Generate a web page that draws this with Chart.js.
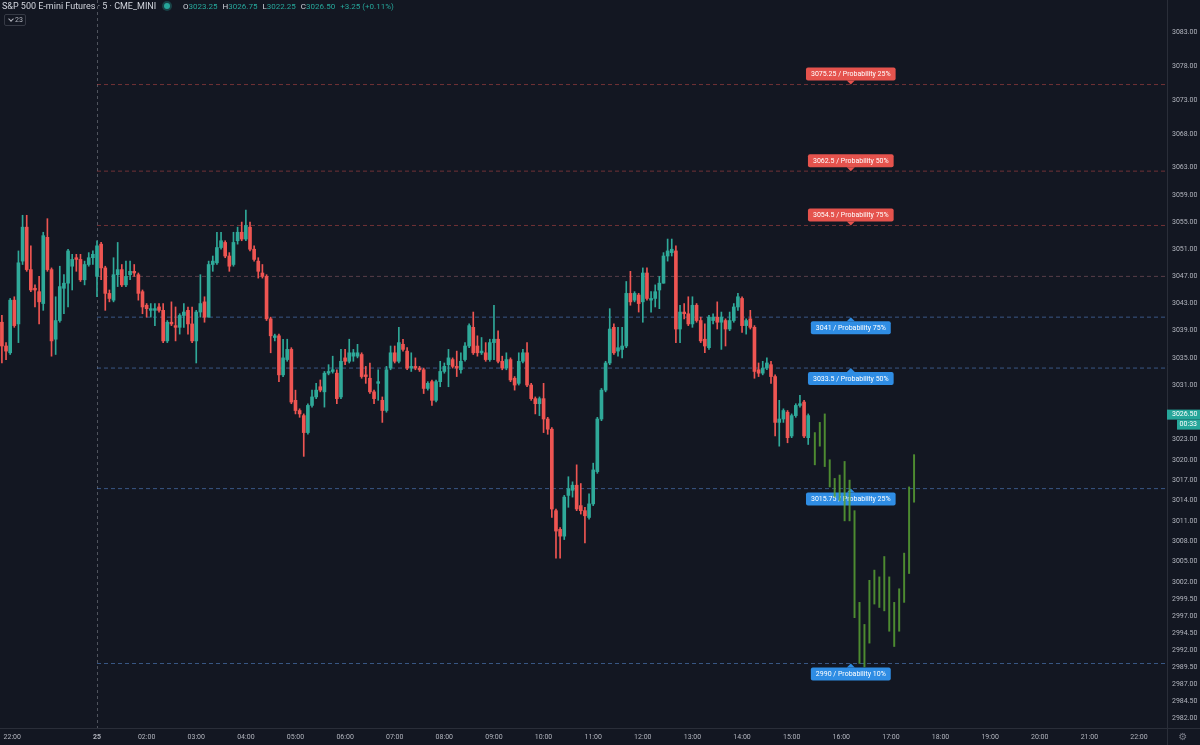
<!DOCTYPE html>
<html>
<head>
<meta charset="utf-8">
<script src="https://cdn.jsdelivr.net/npm/chart.js@4.4.0/dist/chart.umd.min.js"></script>
<style>
  html, body { margin: 0; padding: 0; background: #131722; }
  #wrap { position: relative; width: 1200px; height: 745px; }
  canvas { display: block; }
  .title { position: absolute; left: 2px; top: 1px; font: 9px Roboto, sans-serif; color: #d1d4dc; white-space: nowrap; }
  .dot { position: absolute; left: 164px; top: 3px; width: 6px; height: 6px; border-radius: 50%; background: #26a69a; box-shadow: 0 0 0 2px rgba(38,166,154,0.3); }
  .ohlc { position: absolute; left: 183px; top: 1.5px; font: 8px Roboto, sans-serif; color: #d1d4dc; white-space: nowrap; }
  .ohlc b { font-weight: normal; color: #26a69a; margin-right: 5px; }
  .count { position: absolute; left: 4px; top: 14px; width: 20px; height: 10px; border: 1px solid #363a45; border-radius: 2px; font: 7px Roboto, sans-serif; color: #b2b5be; line-height: 10px; }
  .count i { position: absolute; left: 4px; top: 2px; width: 3px; height: 3px; border-right: 1px solid #b2b5be; border-bottom: 1px solid #b2b5be; transform: rotate(45deg); }
  .count span { position: absolute; left: 10px; top: 0; }
</style>
</head>
<body>
<div id="wrap">
  <canvas id="chart" width="1200" height="745"></canvas>
  <div class="title">S&amp;P 500 E-mini Futures · 5 · CME_MINI</div>
  <div class="dot"></div>
  <div class="ohlc">O<b>3023.25</b>H<b>3026.75</b>L<b>3022.25</b>C<b>3026.50</b><b>+3.25 (+0.11%)</b></div>
  <div class="count"><i></i><span>23</span></div>
</div>
<script>
// 5 minute bars, index 0 = first bar of the 25th
const firstBar = -23

const opens = [
  3040.25, 3036.75, 3035.75, 3043.5, 3040, 3049.25, 3054.25, 3048, 3045.25, 3044.75,
  3043, 3052.75, 3048, 3037.75, 3040.5, 3045.25, 3046, 3048.5, 3049.75, 3049.5,
  3046.5, 3048.75, 3049.75, 3047, 3051.75, 3048.25, 3044.5, 3043.5, 3047.25, 3048,
  3045.75, 3047.25, 3047.75, 3047.25, 3044.75, 3042.75, 3042, 3042, 3042.5, 3042,
  3037.5, 3040.25, 3039.75, 3039.5, 3041.25, 3042, 3040, 3037.5, 3041.75, 3043.25,
  3041, 3048.75, 3049, 3051.25, 3052, 3050, 3048.75, 3052.25, 3053.5, 3052.5,
  3054.25, 3051, 3049.25, 3047.5, 3047, 3040.75, 3038, 3038.25, 3032.5, 3034.75,
  3036.25, 3028.75, 3027.25, 3026.5, 3024, 3028, 3029.25, 3030.75, 3030, 3032.75,
  3033, 3032.75, 3029.25, 3035, 3034.5, 3035.25, 3035.25, 3035.5, 3032.5, 3032,
  3030, 3031.25, 3028.75, 3027.25, 3033.5, 3035.75, 3034.5, 3037, 3036, 3033.5,
  3033.75, 3033.5, 3033.25, 3030.5, 3031.5, 3028.75, 3031.5, 3033, 3034, 3034.75,
  3033.75, 3033.25, 3034.75, 3036.75, 3039.5, 3036.75, 3035.75, 3035.75, 3034.75, 3037.25,
  3037.75, 3034.5, 3033.5, 3034.75, 3032, 3031.25, 3034.5, 3035.75, 3031, 3029,
  3028.25, 3029, 3026, 3024.5, 3012.5, 3009.75, 3008.75, 3014.75, 3015.5, 3016.25,
  3013.25, 3012.5, 3011.5, 3013.5, 3018.25, 3026, 3030.25, 3034.25, 3039.5, 3036,
  3036.25, 3036.75, 3044.5, 3043.5, 3044.25, 3043.25, 3047.5, 3043.5, 3043.75, 3045,
  3046, 3050, 3050.5, 3050.75, 3039.25, 3041.75, 3041.5, 3040, 3042.75, 3040.5,
  3037.75, 3036.5, 3040.5, 3041, 3040.25, 3040.5, 3039.25, 3040.5, 3042.5, 3043.75,
  3039.75, 3040.75, 3039.5, 3033.25, 3032.75, 3033.5, 3034, 3032.25, 3025.5, 3026,
  3027, 3023.5, 3026.5, 3028, 3028.5, 3023.25
]
const highs = [
  3041.25, 3037.25, 3043.75, 3044, 3050.75, 3056, 3056, 3051.5, 3045.75, 3047,
  3053.5, 3055.5, 3048.25, 3044, 3048.5, 3047.25, 3051, 3050.25, 3050.25, 3050.25,
  3049.25, 3050.5, 3050.75, 3052.25, 3052, 3048.5, 3045, 3049.75, 3052, 3048.75,
  3049.25, 3049.25, 3048.75, 3047.5, 3045, 3043, 3043, 3043, 3043, 3043,
  3040.5, 3043.25, 3042.5, 3041.5, 3043, 3042.5, 3042.5, 3042, 3047.25, 3044,
  3049.25, 3050, 3053.5, 3053.5, 3052.25, 3050.5, 3053.5, 3054.25, 3055, 3056.75,
  3055, 3051.5, 3049.75, 3048.75, 3047.25, 3041, 3038.5, 3038.5, 3037.75, 3037.75,
  3036.5, 3030.25, 3027.5, 3026.75, 3028.25, 3030.25, 3031.25, 3031.75, 3033, 3034,
  3035.25, 3033.25, 3036.25, 3036.25, 3037.75, 3036.25, 3037, 3035.75, 3033.75, 3034.25,
  3030.25, 3033.25, 3029.25, 3033.75, 3036.75, 3036.75, 3039.5, 3037.75, 3036.5, 3035.75,
  3035, 3033.75, 3033.5, 3031.5, 3031.75, 3031.75, 3034.5, 3034.25, 3036.25, 3035,
  3036, 3035.75, 3037.25, 3040, 3041.75, 3038.25, 3038, 3037.25, 3037.75, 3042.75,
  3039, 3035.25, 3035.75, 3035, 3032.25, 3035.75, 3036.25, 3037.25, 3031.25, 3029.25,
  3029.25, 3031.25, 3026.25, 3024.75, 3012.75, 3010, 3014.75, 3017.5, 3016.75, 3019.25,
  3016.5, 3013, 3015, 3019.5, 3026.25, 3030.5, 3034.5, 3042.25, 3040, 3039.5,
  3039.5, 3046.25, 3047.75, 3044.75, 3044.5, 3048.25, 3048.25, 3044.75, 3045.75, 3047,
  3050.5, 3052.5, 3052.5, 3051.5, 3042.75, 3043, 3044, 3044, 3043, 3041,
  3040, 3041.25, 3041.5, 3043.25, 3041.75, 3040.75, 3041.75, 3043, 3044.5, 3044,
  3040.75, 3042, 3039.75, 3034.25, 3034.5, 3035, 3034.5, 3032.5, 3028.75, 3027.5,
  3027.25, 3026.75, 3028.25, 3029.5, 3028.75, 3026.75
]
const lows = [
  3034.25, 3034.75, 3035.5, 3039.5, 3037.25, 3048.75, 3047.75, 3044.75, 3042.5, 3040,
  3042, 3047.75, 3035.25, 3035.5, 3040.25, 3041.5, 3042.5, 3045, 3047.75, 3046.25,
  3045.75, 3048.5, 3048.75, 3044, 3046.5, 3042, 3043.25, 3043.25, 3045.5, 3045.5,
  3045.5, 3046.5, 3047, 3043.5, 3041.5, 3041, 3041, 3039.75, 3041.75, 3037.25,
  3037.25, 3039.75, 3037.5, 3038.5, 3039.5, 3038.5, 3037.25, 3034.25, 3041, 3040.25,
  3041, 3047.75, 3048.75, 3051, 3049.75, 3047.75, 3048.5, 3051.75, 3052.25, 3052.25,
  3050.75, 3049.25, 3046.75, 3046.75, 3040.5, 3035.75, 3037.5, 3031.5, 3032.25, 3034.5,
  3028.25, 3026.75, 3026.25, 3020.5, 3023.75, 3027.75, 3029, 3030, 3027.75, 3032.5,
  3032.75, 3028.25, 3029, 3034, 3034.25, 3034.5, 3035, 3032, 3031.25, 3029.75,
  3028.25, 3028.75, 3025.5, 3027, 3033.25, 3034.25, 3034.25, 3036, 3033.25, 3033,
  3033.25, 3033, 3029.75, 3030.25, 3028, 3028.5, 3030.75, 3032.75, 3030.75, 3033.5,
  3032.25, 3032.75, 3034.5, 3036.5, 3035.5, 3035.25, 3035.5, 3034.5, 3034.5, 3034.75,
  3034.25, 3033.25, 3033.25, 3031.5, 3030.25, 3031, 3034.25, 3030.75, 3028.75, 3026.75,
  3026.5, 3024, 3023.75, 3011.5, 3005.5, 3005.5, 3008.25, 3013, 3014.5, 3012.5,
  3012, 3007.75, 3011.25, 3013.25, 3018, 3025.75, 3030, 3034, 3035.5, 3035.25,
  3035, 3036.5, 3042.75, 3043.25, 3041.75, 3040.25, 3043.5, 3041.75, 3042.5, 3042.25,
  3046, 3049.25, 3050, 3037.25, 3037.25, 3040.75, 3039.75, 3039.5, 3040.25, 3037.25,
  3035.75, 3036.25, 3040, 3039.25, 3036.25, 3036.75, 3039, 3040.25, 3042, 3038.75,
  3038.5, 3039.25, 3032, 3032.25, 3032.5, 3033.25, 3031.25, 3023.5, 3022, 3025.5,
  3022.5, 3023.25, 3026.25, 3027.75, 3023.25, 3022.25
]
const closes = [
  3036.75, 3036, 3043.5, 3039.75, 3049, 3054.25, 3048, 3045, 3045, 3043.25,
  3053, 3048, 3037.5, 3040.5, 3045.5, 3046, 3050.75, 3049.5, 3049.5, 3046.5,
  3048.75, 3049.75, 3050.25, 3051.5, 3048.25, 3044.5, 3043.75, 3047.25, 3048, 3045.75,
  3047, 3047.75, 3047.5, 3044.5, 3042.5, 3042.25, 3042.25, 3042.25, 3042, 3037.5,
  3040.25, 3040, 3039.5, 3041.25, 3041.75, 3040, 3037.5, 3041.75, 3043, 3041,
  3048.75, 3049.25, 3051.25, 3052.25, 3050, 3048.5, 3052, 3053.5, 3052.5, 3054.5,
  3051, 3049.5, 3047.75, 3047, 3040.75, 3038.25, 3038.25, 3032.5, 3035, 3036.25,
  3028.5, 3027.25, 3026.75, 3024, 3028, 3029.25, 3030.25, 3030.25, 3032.75, 3033,
  3033.25, 3029, 3034.5, 3034.5, 3035.75, 3035.75, 3035.75, 3032.25, 3032.25, 3030,
  3029, 3031.5, 3027.25, 3033.25, 3035.75, 3034.5, 3037.25, 3036.25, 3033.5, 3033.75,
  3033.5, 3033.25, 3030.5, 3031.25, 3028.75, 3031.5, 3033, 3033.75, 3035, 3033.75,
  3033.5, 3034.5, 3036.75, 3039.75, 3035.75, 3035.75, 3036, 3034.75, 3037.25, 3037.75,
  3034.5, 3033.5, 3034.75, 3031.75, 3031, 3034.5, 3035.75, 3031, 3029, 3028.25,
  3029, 3026, 3024.5, 3012.75, 3009.5, 3008.75, 3014.5, 3015.75, 3016.25, 3012.75,
  3012.5, 3011.75, 3013.5, 3018.5, 3026, 3030.25, 3034.25, 3039.25, 3035.75, 3036.5,
  3036.75, 3044.5, 3043.25, 3044.5, 3043, 3047.5, 3043.75, 3043.75, 3044.75, 3046,
  3050, 3050.75, 3051, 3039.25, 3041.75, 3041.5, 3040, 3042.75, 3040.5, 3037.5,
  3036.75, 3041, 3041, 3040.25, 3041, 3039.25, 3040.5, 3042.5, 3044, 3039.75,
  3040.5, 3039.5, 3033, 3032.75, 3033.5, 3034.25, 3032.25, 3025.5, 3026, 3027.25,
  3023.25, 3026.5, 3028, 3028.25, 3023.5, 3026.5
]

// projected path (green bars, high/low only)
const projX = [173.6, 174.8, 176.0, 177.2, 178.4, 179.6, 180.8, 182.0, 183.2, 184.4, 185.6,
  186.8, 188.0, 189.2, 190.4, 191.6, 192.8, 194.0, 195.2, 196.4, 197.6]
const projHigh = [3024, 3025.5, 3026.75, 3020, 3017.25, 3017.75, 3019.75, 3017, 3012.5, 2999, 2995.75,
  3002.25, 3003.75, 3002.75, 3005.75, 3002.75, 2999, 3001, 3006.25, 3016, 3020.75]
const projLow = [3019.25, 3022, 3019, 3016, 3014.5, 3014, 3011, 3011, 2996.75, 2990, 2989.5,
  2993, 2998.75, 2998.25, 2997.75, 2994.75, 2992.5, 2994.75, 2999, 3003.25, 3013.75]

// probability levels
const levelPrices = [3075.25, 3062.5, 3054.5, 3041, 3033.5, 3015.75, 2990]
const levelProbs = ['25%', '50%', '75%', '75%', '50%', '25%', '10%']
const levelSides = ['sell', 'sell', 'sell', 'buy', 'buy', 'buy', 'buy']
const extraLevel = 3047

const priceTicks = [3083, 3078, 3073, 3068, 3063, 3059, 3055, 3051, 3047, 3043, 3039, 3035, 3031,
  3023, 3020, 3017, 3014, 3011, 3008, 3005, 3002, 2999.5, 2997, 2994.5, 2992, 2989.5, 2987, 2984.5, 2982]
const timeTickPos = [-20.5, 0, 12, 24, 36, 48, 60, 72, 84, 96, 108, 120, 132, 144, 156, 168, 180, 192, 204, 216, 228, 240, 252]
const timeTickLabels = ['22:00', '25', '02:00', '03:00', '04:00', '05:00', '06:00', '07:00', '08:00', '09:00',
  '10:00', '11:00', '12:00', '13:00', '14:00', '15:00', '16:00', '17:00', '18:00', '19:00', '20:00', '21:00', '22:00']

const lastPrice = 3026.5
const lastPriceText = '3026.50'
const countdown = '00:33'

const xMin = -23.46, xMax = 258.77
const yMin = 2980.5, yMax = 3087.7
const labelBar = 182.3

const upColor = '#2fa999'
const downColor = '#ee5552'
const projColor = 'rgba(88,160,52,0.85)'
const sellColor = '#e5534d'
const buyColor = '#2f8de4'
const axisText = '#b2b5be'
const fontFamily = 'Roboto, "Liberation Sans", sans-serif'

Chart.defaults.font.family = fontFamily

const candleColors = opens.map((o, i) => closes[i] >= o ? upColor : downColor)
const bodies = opens.map((o, i) => ({ x: firstBar + i, y: [o, closes[i]] }))
const wicks = highs.map((h, i) => ({ x: firstBar + i, y: [lows[i], h] }))
const proj = projX.map((x, i) => ({ x: x, y: [projLow[i], projHigh[i]] }))

const levelLine = (price, color) => ({
  type: 'line',
  data: [{ x: 0, y: price }, { x: xMax, y: price }],
  borderColor: color,
  borderWidth: 1,
  borderDash: [4, 3],
  pointRadius: 0,
  fill: false
})

const levelColors = levelSides.map(s => s === 'sell' ? 'rgba(229,83,77,0.45)' : 'rgba(90,140,215,0.55)')

const overlay = {
  id: 'overlay',
  beforeDatasetsDraw(chart) {
    const { ctx, scales: { x, y } } = chart
    ctx.save()
    // session start line
    const dx = Math.round(x.getPixelForValue(0)) + 0.5
    ctx.strokeStyle = 'rgba(120,123,134,0.6)'
    ctx.setLineDash([3, 3])
    ctx.lineWidth = 1
    ctx.beginPath()
    ctx.moveTo(dx, 0)
    ctx.lineTo(dx, chart.chartArea.bottom)
    ctx.stroke()
    ctx.setLineDash([])

    // probability labels
    ctx.font = '7px ' + fontFamily
    ctx.textAlign = 'center'
    ctx.textBaseline = 'middle'
    const cx = x.getPixelForValue(labelBar)
    levelPrices.forEach((p, i) => {
      const py = y.getPixelForValue(p)
      const text = p + ' / Probability ' + levelProbs[i]
      const w = ctx.measureText(text).width + 10
      const h = 13
      const sell = levelSides[i] === 'sell'
      const top = sell ? py - 4 - h : py + 4
      ctx.fillStyle = sell ? sellColor : buyColor
      ctx.beginPath()
      ctx.roundRect(cx - w / 2, top, w, h, 2)
      ctx.fill()
      ctx.beginPath()
      if (sell) {
        ctx.moveTo(cx - 4, top + h); ctx.lineTo(cx + 4, top + h); ctx.lineTo(cx, py)
      } else {
        ctx.moveTo(cx - 4, top); ctx.lineTo(cx + 4, top); ctx.lineTo(cx, py)
      }
      ctx.fill()
      ctx.fillStyle = '#ffffff'
      ctx.fillText(text, cx, top + h / 2 + 0.5)
    })
    ctx.restore()
  },
  afterDraw(chart) {
    const { ctx, scales: { y }, chartArea } = chart
    ctx.save()
    // corner of the axes
    ctx.strokeStyle = '#2a2e39'
    ctx.beginPath()
    ctx.moveTo(chartArea.right + 0.5, chartArea.bottom)
    ctx.lineTo(chartArea.right + 0.5, chart.height)
    ctx.moveTo(chartArea.right, chartArea.bottom + 0.5)
    ctx.lineTo(chart.width, chartArea.bottom + 0.5)
    ctx.stroke()

    // last price tag
    const py = y.getPixelForValue(lastPrice)
    ctx.fillStyle = '#26a69a'
    ctx.fillRect(chartArea.right, py - 6, chart.width - chartArea.right, 10)
    ctx.fillRect(chartArea.right + 10, py + 4, chart.width - chartArea.right - 10, 10)
    ctx.fillStyle = '#ffffff'
    ctx.font = '7px ' + fontFamily
    ctx.textBaseline = 'middle'
    ctx.textAlign = 'left'
    ctx.fillText(lastPriceText, chartArea.right + 5, py - 1)
    ctx.textAlign = 'right'
    ctx.fillText(countdown, chart.width - 3, py + 9)

    // settings icon
    ctx.fillStyle = '#787b86'
    ctx.textAlign = 'center'
    ctx.font = '10px "DejaVu Sans"'
    ctx.fillText('\u2699', chartArea.right + 16, chartArea.bottom + 9)
    ctx.restore()
  }
}

new Chart(document.getElementById('chart'), {
  type: 'bar',
  data: {
    datasets: [
      {
        data: proj,
        backgroundColor: projColor,
        barThickness: 1.3,
        grouped: false
      },
      {
        data: bodies,
        backgroundColor: candleColors,
        barThickness: 3,
        minBarLength: 1,
        grouped: false
      },
      {
        data: wicks,
        backgroundColor: candleColors,
        barThickness: 1,
        grouped: false
      },
      ...levelPrices.map((p, i) => levelLine(p, levelColors[i])),
      levelLine(extraLevel, 'rgba(190,120,130,0.4)')
    ]
  },
  options: {
    responsive: false,
    animation: false,
    layout: { padding: 0 },
    plugins: { legend: { display: false }, tooltip: { enabled: false } },
    scales: {
      x: {
        type: 'linear',
        min: xMin,
        max: xMax,
        bounds: 'data',
        offset: false,
        grid: { display: false, drawTicks: false, offset: false },
        border: { display: true, color: '#2a2e39' },
        afterBuildTicks: s => { s.ticks = timeTickPos.map(v => ({ value: v })) },
        afterFit: s => { s.height = 17; s.paddingLeft = 0; s.paddingRight = 0 },
        ticks: {
          color: axisText,
          padding: 5,
          maxRotation: 0,
          autoSkip: false,
          font: ctx => ({ size: 7, weight: ctx.index === 1 ? 'bold' : 'normal' }),
          callback: (v, i) => timeTickLabels[i]
        }
      },
      y: {
        position: 'right',
        min: yMin,
        max: yMax,
        bounds: 'data',
        grid: { display: false, drawTicks: false },
        border: { display: true, color: '#2a2e39' },
        afterBuildTicks: s => { s.ticks = priceTicks.map(v => ({ value: v })) },
        afterFit: s => { s.width = 33; s.paddingTop = 0; s.paddingBottom = 0 },
        ticks: {
          color: axisText,
          padding: 5,
          autoSkip: false,
          font: { size: 7 },
          callback: v => v.toFixed(2)
        }
      }
    }
  },
  plugins: [overlay]
})
</script>
</body>
</html>
